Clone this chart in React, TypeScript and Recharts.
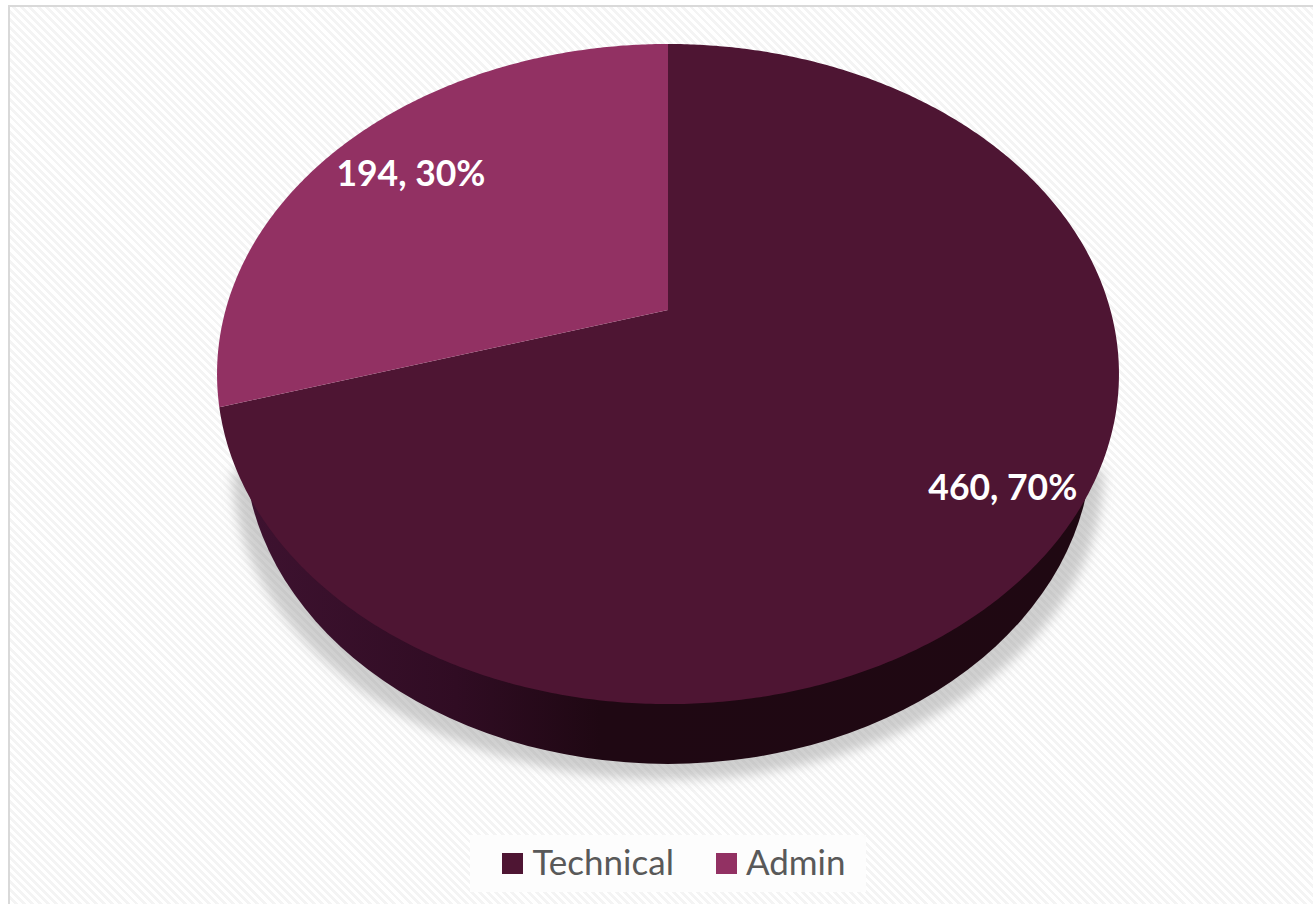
import React from "react";
import { PieChart, Pie, Legend } from "recharts";

const categories = ["Technical", "Admin"];
const values = [460, 194];
const colors = ["#4e1533", "#923163"];

const chartData = categories.map((name, i) => ({ name, value: values[i], fill: colors[i] }));

const W = 1313;
const H = 904;
const CX = 668;
const CY = 310;
const R = 442.4;
const SQUASH = 0.718;
const PERSPECTIVE = 0.194;
const RAD = Math.PI / 180;
const FONT = "Lato, 'Open Sans', sans-serif";

function project(cx: number, cy: number, r: number, angle: number, t = 1) {
  const u = Math.cos(angle * RAD) * t;
  const v = Math.sin(angle * RAD) * t;
  const d = 1 + PERSPECTIVE * v;
  return { x: cx + (r * u) / d, y: cy - (r * SQUASH * v) / d };
}

function lowerEllipse(cx: number, cy: number, rx: number, ry: number) {
  return `M${cx - rx},${cy} A${rx},${ry} 0 0 0 ${cx + rx},${cy} Z`;
}

function PerspectiveSector(props: any) {
  const { cx, cy, outerRadius: r, startAngle, endAngle, fill, index } = props;
  const steps = Math.max(2, Math.ceil(Math.abs(endAngle - startAngle) * 2));
  let d = `M${cx},${cy}`;
  for (let i = 0; i <= steps; i++) {
    const p = project(cx, cy, r, startAngle + ((endAngle - startAngle) * i) / steps);
    d += ` L${p.x},${p.y}`;
  }
  d += " Z";
  const isFront = index === 0;
  return (
    <g>
      {isFront && (
        <>
          <path
            d={`M${cx - r * 0.985},${cy + r * 0.362} A${r * 0.985},${r * 0.7} 0 1 0 ${cx + r * 0.985},${cy + r * 0.362} Z`}
            fill="#8f8f8f"
            fillOpacity={0.42}
            filter="url(#pieShadow)"
          />
          <path d={lowerEllipse(cx, cy + r * 0.3, r * 0.958, r * 0.726)} fill="url(#wallGrad)" />
        </>
      )}
      <path d={d} fill={fill} stroke="none" />
    </g>
  );
}

function renderLabel(props: any) {
  const { cx, cy, outerRadius: r, midAngle, value, percent, index } = props;
  const p = project(cx, cy, r, midAngle, index === 0 ? 0.85 : 0.79);
  return (
    <text
      x={p.x}
      y={p.y}
      dy={index === 0 ? -2 : 0}
      fill="#ffffff"
      textAnchor="middle"
      dominantBaseline="central"
      style={{ fontFamily: FONT, fontWeight: 700, fontSize: 35.5 }}
    >
      {`${value}, ${Math.round(percent * 100)}%`}
    </text>
  );
}

function LegendContent(props: any) {
  const items = [...(props.payload || [])].sort(
    (a: any, b: any) => categories.indexOf(a.value) - categories.indexOf(b.value)
  );
  return (
    <div
      style={{
        display: "flex",
        alignItems: "center",
        justifyContent: "center",
        height: "100%",
        gap: 42,
        paddingLeft: 12,
        boxSizing: "border-box",
        fontFamily: FONT,
        fontSize: 35,
        color: "#595959",
      }}
    >
      {items.map((it: any) => (
        <span key={it.value} style={{ display: "inline-flex", alignItems: "center", gap: 9 }}>
          <span style={{ width: 21, height: 21, background: it.color, display: "inline-block" }} />
          <span style={{ position: "relative", top: -3 }}>{it.value}</span>
        </span>
      ))}
    </div>
  );
}

export default function App() {
  return (
    <div
      style={{
        position: "absolute",
        left: 8,
        top: 5,
        width: W - 10,
        height: H - 7,
        borderTop: "2px solid #d9d9d9",
        borderLeft: "2px solid #d9d9d9",
        overflow: "hidden",
        background: "repeating-linear-gradient(45deg, #ffffff 0px, #ffffff 2.9px, #f4f4f4 2.9px, #f4f4f4 5.7px)",
      }}
    >
      <div style={{ position: "absolute", left: -10, top: -7 }}>
        <PieChart width={W} height={H} margin={{ top: 0, right: 0, bottom: 0, left: 0 }}>
          <defs>
            <filter id="pieShadow" x="-10%" y="-10%" width="120%" height="120%">
              <feGaussianBlur stdDeviation="6" />
            </filter>
            <linearGradient id="wallGrad" gradientUnits="userSpaceOnUse" x1={CX - 424} y1="0" x2={CX + 424} y2="0">
              <stop offset="0" stopColor="#3e1230" />
              <stop offset="0.25" stopColor="#300c23" />
              <stop offset="0.42" stopColor="#1f0813" />
              <stop offset="1" stopColor="#1f0812" />
            </linearGradient>
          </defs>
          <Pie
            data={chartData}
            dataKey="value"
            nameKey="name"
            cx={CX}
            cy={CY}
            innerRadius={0}
            outerRadius={R}
            startAngle={90}
            endAngle={-270}
            stroke="none"
            shape={PerspectiveSector}
            label={renderLabel}
            labelLine={false}
            isAnimationActive={false}
          />
          <Legend
            content={LegendContent}
            wrapperStyle={{ left: 470, top: 835, width: 396, height: 57, background: "#fdfdfd" }}
          />
        </PieChart>
      </div>
    </div>
  );
}
